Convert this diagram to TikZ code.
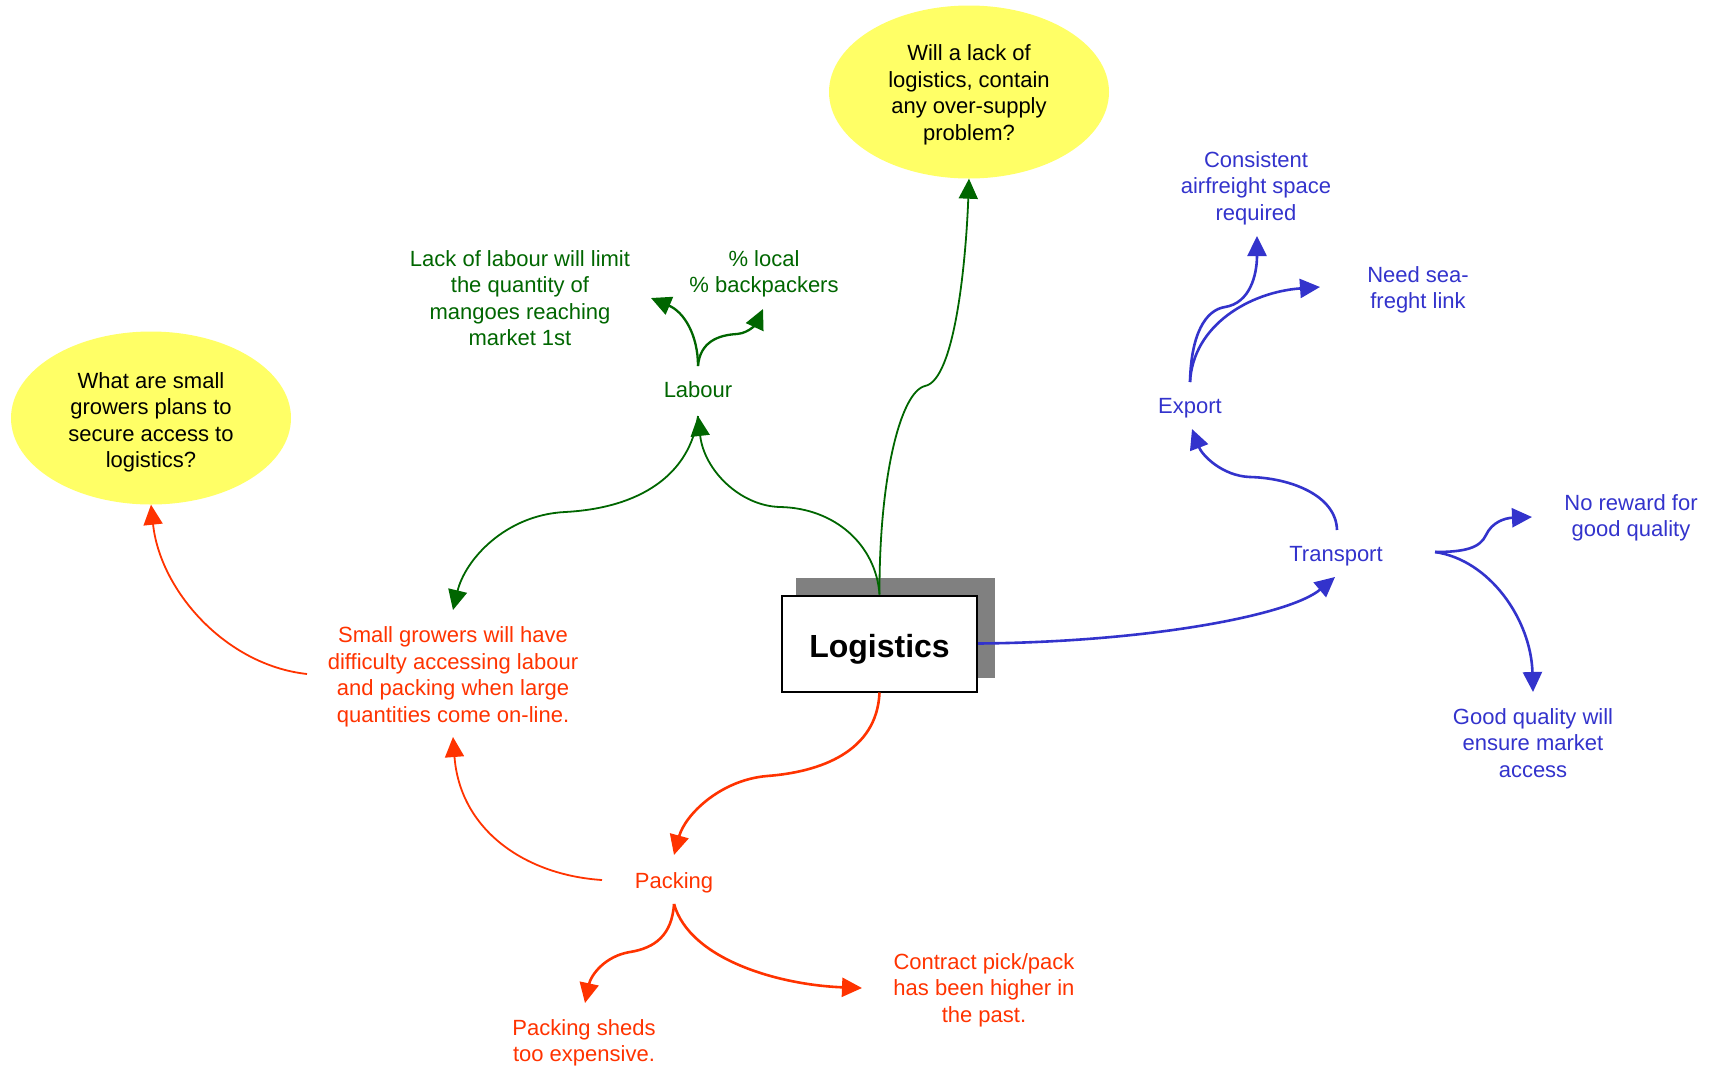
\documentclass[tikz,border=0pt]{standalone}
\usepackage{fontspec}
\setmainfont{Liberation Sans}
\usetikzlibrary{arrows.meta,shapes.geometric,calc}
\definecolor{lgreen}{HTML}{006600}
\definecolor{lblue}{HTML}{3333CC}
\definecolor{lred}{HTML}{FF3300}
\definecolor{qyellow}{HTML}{FFFF66}
\definecolor{shadowgray}{HTML}{808080}

\begin{document}
\begin{tikzpicture}[x=1pt,y=-1pt,
  lbl/.style={inner sep=0pt, align=center, font=\fontsize{22}{26.5}\selectfont},
  question/.style={ellipse, fill=qyellow, minimum width=280pt, minimum height=173pt,
                   inner sep=0pt, align=center, text=black,
                   font=\fontsize{22}{26.5}\selectfont},
  central/.style={draw=black, line width=2pt, fill=white, minimum width=195pt,
                  minimum height=96pt, inner sep=0pt, text height=27pt, text depth=0pt,
                  font=\bfseries\fontsize{32}{38}\selectfont},
  tip/.style={-{Triangle[length=20pt,width=19pt]}},
  glink/.style={tip, draw=lgreen, line width=1.8pt},
  gbranch/.style={tip, draw=lgreen, line width=2.3pt},
  blink/.style={tip, draw=lblue, line width=2.6pt},
  rlink/.style={tip, draw=lred, line width=2.6pt},
  rthin/.style={tip, draw=lred, line width=1.8pt},
]
\useasboundingbox (0,0) rectangle (1715,1069);

% central topic with its drop shadow
\fill[shadowgray] (796,578) rectangle (995,678);
\node[central] (log) at (879.5,643.5) {Logistics};

% questions
\node[question] (q1) at (969,92) {\rule{0pt}{22pt}Will a lack of\\logistics, contain\\any over-supply\\problem?};
\node[question] (q2) at (151,418) {\rule{0pt}{25pt}What are small\\growers plans to\\secure access to\\logistics?};

% labour branch
\node[lbl, text=lgreen] (labour) at (698,390) {Labour};
\node[lbl, text=lgreen] (lack) at (520,298) {Lack of labour will limit\\the quantity of\\mangoes reaching\\market 1st};
\node[lbl, text=lgreen] (local) at (764,274) {\% local\\\% backpackers};

% transport branch
\node[lbl, text=lblue] (transport) at (1336,556) {Transport};
\node[lbl, text=lblue] (export) at (1190,408) {Export};
\node[lbl, text=lblue] (cons) at (1256,188) {Consistent\\airfreight space\\required};
\node[lbl, text=lblue] (sea) at (1418,290) {Need sea-\\freght link};
\node[lbl, text=lblue] (reward) at (1631,518) {No reward for\\good quality};
\node[lbl, text=lblue] (goodq) at (1533,743) {Good quality will\\ensure market\\access};

% packing branch
\node[lbl, text=lred] (small) at (453,677) {Small growers will have\\difficulty accessing labour\\and packing when large\\quantities come on-line.};
\node[lbl, text=lred] (packing) at (674,883) {Packing};
\node[lbl, text=lred] (sheds) at (584,1043) {Packing sheds\\too expensive.};
\node[lbl, text=lred] (contract) at (984,990) {Contract pick/pack\\has been higher in\\the past.};

% connection points around the labels
\coordinate (labour-n) at ($(labour)+(0,-24)$);
\coordinate (labour-s) at ($(labour)+(0,26)$);
\coordinate (lack-e) at ($(lack)+(131,0)$);
\coordinate (local-s) at ($(local)+(-1,35)$);
\coordinate (export-n) at ($(export)+(0,-26)$);
\coordinate (export-s) at ($(export)+(2,21)$);
\coordinate (cons-s) at ($(cons)+(1,48)$);
\coordinate (sea-w) at ($(sea)+(-98,-3)$);
\coordinate (transport-n) at ($(transport)+(1,-26)$);
\coordinate (transport-s) at ($(transport)+(-1,21)$);
\coordinate (transport-e) at ($(transport)+(99,-4)$);
\coordinate (reward-w) at ($(reward)+(-99,-1)$);
\coordinate (goodq-n) at ($(goodq)+(0,-51)$);
\coordinate (small-n) at ($(small)+(0,-67)$);
\coordinate (small-s) at ($(small)+(0,60)$);
\coordinate (small-w) at ($(small)+(-146,-3)$);
\coordinate (packing-n) at ($(packing)+(0,-28)$);
\coordinate (packing-w) at ($(packing)+(-72,-3)$);
\coordinate (packing-s) at ($(packing)+(0,21)$);
\coordinate (sheds-n) at ($(sheds)+(1,-40)$);
\coordinate (contract-w) at ($(contract)+(-122,-2)$);

% green connectors
\draw[glink] (log.north) .. controls (879,480) and (900,392) .. (925,386)
  .. controls (955,380) and (966,260) .. (q1.south);
\draw[glink] (log.north) .. controls (876,545) and (835,508) .. (780,507)
  .. controls (740,506) and (704,470) .. (labour-s);
\draw[glink] (labour-s) .. controls (690,475) and (640,508) .. (565,512)
  .. controls (505,515) and (465,560) .. (small-n);
\draw[gbranch] (labour-n) .. controls (698,335) and (684,312) .. (lack-e);
\draw[gbranch] (labour-n) .. controls (700,342) and (718,335) .. (737,334)
  .. controls (750,333) and (757,322) .. (local-s);

% blue connectors
\draw[blink] (log.east) .. controls (1150,642) and (1290,615) .. (transport-s);
\draw[blink] (transport-n) .. controls (1336,495) and (1290,478) .. (1250,477)
  .. controls (1222,476) and (1202,455) .. (export-s);
\draw[blink] (export-n) .. controls (1191,335) and (1205,310) .. (1225,307)
  .. controls (1250,303) and (1257,275) .. (cons-s);
\draw[blink] (export-n) .. controls (1193,325) and (1250,292) .. (sea-w);
\draw[blink] (transport-e) .. controls (1465,552) and (1480,548) .. (1486,535)
  .. controls (1492,522) and (1505,518) .. (reward-w);
\draw[blink] (transport-e) .. controls (1490,560) and (1531,620) .. (goodq-n);

% red connectors
\draw[rlink] (log.south) .. controls (877,752) and (820,772) .. (767,776)
  .. controls (720,780) and (685,815) .. (packing-n);
\draw[rthin] (packing-w) .. controls (525,875) and (460,830) .. (small-s);
\draw[rthin] (small-w) .. controls (225,665) and (160,590) .. (q2.south);
\draw[rlink] (packing-s) .. controls (672,935) and (655,948) .. (630,952)
  .. controls (605,956) and (591,975) .. (sheds-n);
\draw[rlink] (packing-s) .. controls (690,960) and (780,985) .. (contract-w);
\end{tikzpicture}
\end{document}
